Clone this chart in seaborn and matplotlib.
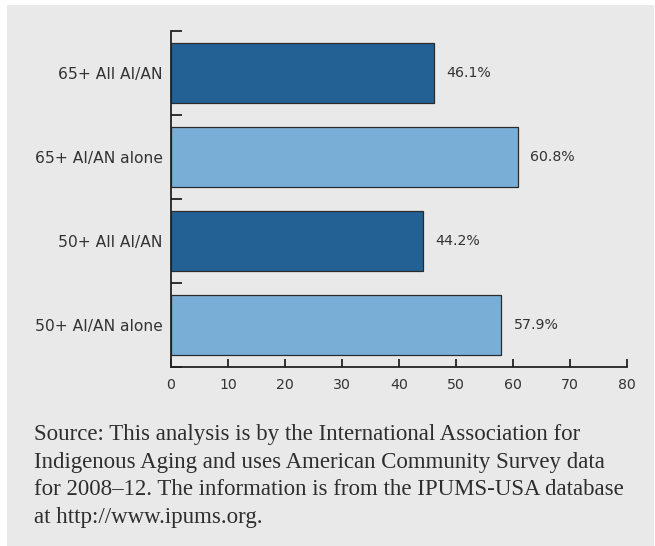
import matplotlib
matplotlib.use("Agg")
import matplotlib.pyplot as plt
from matplotlib.patches import Rectangle
from matplotlib.ticker import FixedLocator, NullFormatter
import seaborn as sns
import pandas as pd

# Data
groups = ["65+ All AI/AN", "65+ AI/AN alone", "50+ All AI/AN", "50+ AI/AN alone"]
shares = [46.1, 60.8, 44.2, 57.9]
bar_colors = ["#236194", "#79afd6", "#236194", "#79afd6"]
x_ticks = [0, 10, 20, 30, 40, 50, 60, 70, 80]
source_note = ("Source: This analysis is by the International Association for\n"
               "Indigenous Aging and uses American Community Survey data\n"
               "for 2008\u201312. The information is from the IPUMS-USA database\n"
               "at http://www.ipums.org.")

df = pd.DataFrame({"group": groups, "share": shares})

sns.set_theme(style="white")
plt.rcParams["font.family"] = ["DejaVu Sans"]

W, H = 655, 546
fig = plt.figure(figsize=(W / 100, H / 100), dpi=100, facecolor="white")

# grey panel behind everything
fig.patches.append(Rectangle((7 / W, 0), (654 - 7) / W, (H - 5) / H,
                             transform=fig.transFigure, facecolor="#e9e9e9",
                             edgecolor="none", zorder=-10))

ax = fig.add_axes([171 / W, 1 - 367 / H, (627 - 171) / W, (367 - 31) / H])
ax.set_facecolor("none")

sns.barplot(data=df, x="share", y="group", hue="group", palette=bar_colors,
            legend=False, width=0.72, edgecolor="#2b2b2b", linewidth=0.9,
            saturation=1, ax=ax)

ax.set_xlim(0, 80)
ax.set_ylim(len(groups) - 0.5, -0.5)
ax.set_xlabel("")
ax.set_ylabel("")

for i, v in enumerate(shares):
    ax.text(v + 2.2, i, f"{v}%", va="center", ha="left", fontsize=10.2,
            color="#333333")

# axes styling
for side in ["top", "right"]:
    ax.spines[side].set_visible(False)
for side in ["left", "bottom"]:
    ax.spines[side].set_color("#222222")
    ax.spines[side].set_linewidth(1.3)

ax.set_xticks(x_ticks)
ax.set_xticklabels([str(t) for t in x_ticks])
ax.tick_params(axis="x", direction="in", length=6, width=1.3, color="#222222",
               pad=8, labelsize=10.2, labelcolor="#333333", bottom=True)

# category boundaries as major ticks, labels at centres as minor ticks
ax.yaxis.set_major_locator(FixedLocator([-0.5, 0.5, 1.5, 2.5, 3.5]))
ax.yaxis.set_major_formatter(NullFormatter())
ax.yaxis.set_minor_locator(FixedLocator(list(range(len(groups)))))
ax.set_yticklabels(groups, minor=True)
ax.tick_params(axis="y", which="major", direction="in", length=8, width=1.3,
               color="#222222", left=True)
ax.tick_params(axis="y", which="minor", length=0, pad=6, labelsize=11.2,
               labelcolor="#333333", left=True)

fig.text(34 / W, 1 - 424 / H, source_note, ha="left", va="top",
         fontsize=16.5, family="Liberation Serif", color="#2e2e2e",
         linespacing=1.42)

fig.savefig("out.png", dpi=100, facecolor="white")
